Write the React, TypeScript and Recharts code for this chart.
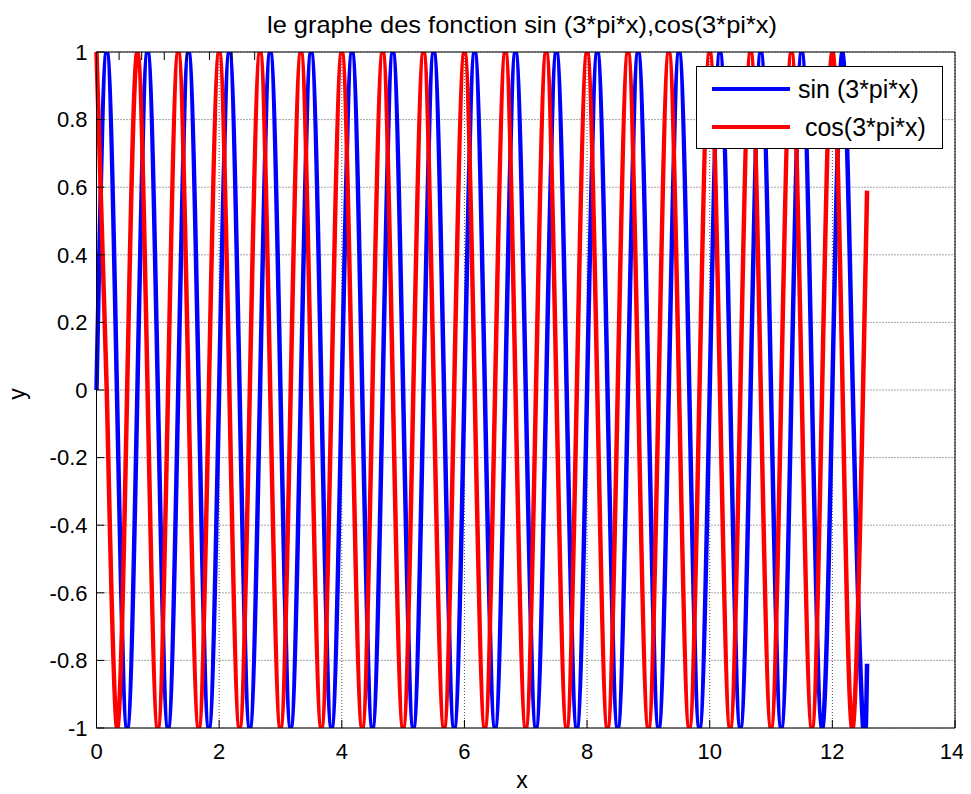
import { CartesianGrid, Customized, Line, LineChart, XAxis, YAxis } from 'recharts';

// key points of the two curves (zeros and extrema, quarter period apart)
const xValues = [
  0, 0.167, 0.333, 0.5, 0.667, 0.833,
  1, 1.167, 1.333, 1.5, 1.667, 1.833,
  2, 2.167, 2.333, 2.5, 2.667, 2.833,
  3, 3.167, 3.333, 3.5, 3.667, 3.833,
  4, 4.167, 4.333, 4.5, 4.667, 4.833,
  5, 5.167, 5.333, 5.5, 5.667, 5.833,
  6, 6.167, 6.333, 6.5, 6.667, 6.833,
  7, 7.167, 7.333, 7.5, 7.667, 7.833,
  8, 8.167, 8.333, 8.5, 8.667, 8.833,
  9, 9.167, 9.333, 9.5, 9.667, 9.833,
  10, 10.167, 10.333, 10.5, 10.667, 10.833,
  11, 11.167, 11.333, 11.5, 11.667, 11.833,
  12, 12.167, 12.333, 12.5, 12.566,
];

const sinValues = [
  0, 1, 0, -1, 0, 1,
  0, -1, 0, 1, 0, -1,
  0, 1, 0, -1, 0, 1,
  0, -1, 0, 1, 0, -1,
  0, 1, 0, -1, 0, 1,
  0, -1, 0, 1, 0, -1,
  0, 1, 0, -1, 0, 1,
  0, -1, 0, 1, 0, -1,
  0, 1, 0, -1, 0, 1,
  0, -1, 0, 1, 0, -1,
  0, 1, 0, -1, 0, 1,
  0, -1, 0, 1, 0, -1,
  0, 1, 0, -1, -0.81,
];

const cosValues = [
  1, 0, -1, 0, 1, 0,
  -1, 0, 1, 0, -1, 0,
  1, 0, -1, 0, 1, 0,
  -1, 0, 1, 0, -1, 0,
  1, 0, -1, 0, 1, 0,
  -1, 0, 1, 0, -1, 0,
  1, 0, -1, 0, 1, 0,
  -1, 0, 1, 0, -1, 0,
  1, 0, -1, 0, 1, 0,
  -1, 0, 1, 0, -1, 0,
  1, 0, -1, 0, 1, 0,
  -1, 0, 1, 0, -1, 0,
  1, 0, -1, 0, 0.59,
];

const xTicks = [0, 2, 4, 6, 8, 10, 12, 14];
const yTicks = [-1, -0.8, -0.6, -0.4, -0.2, 0, 0.2, 0.4, 0.6, 0.8, 1];

const seriesNames = ['sin (3*pi*x)', ' cos(3*pi*x)'];
const seriesColors = ['#0000ff', '#ff0000'];

const FONT = '"Liberation Sans", Arial, Helvetica, sans-serif';

const data = xValues.map((x, i) => ({ x, sin: sinValues[i], cos: cosValues[i] }));

const noLabel = () => <g />;

function Texts() {
  return (
    <g fontFamily={FONT} fill="#000">
      <text x={522} y={33} fontSize={24} textAnchor="middle" textLength={510} lengthAdjust="spacingAndGlyphs">
        le graphe des fonction sin (3*pi*x),cos(3*pi*x)
      </text>
      <text x={522} y={788} fontSize={23} textAnchor="middle">x</text>
      <text x={25} y={394} fontSize={23} textAnchor="middle" transform="rotate(-90 25 394)">y</text>
    </g>
  );
}

export default function App() {
  // svg is pulled over the body margin so chart coordinates equal page pixels
  return (
    <div style={{ position: 'relative', width: 963, height: 794, margin: '-8px 0 0 -8px' }}>
      <LineChart width={963} height={794} data={data} margin={{ top: 51, right: 7, bottom: 36, left: 36.5 }}>
        <CartesianGrid stroke="#000" strokeOpacity={0.7} strokeDasharray="1 2" />
        <XAxis
          dataKey="x"
          type="number"
          domain={[0, 14]}
          ticks={xTicks}
          height={30}
          stroke="#000"
          tickSize={-8}
          tickMargin={23}
          tick={{ fill: '#000', fontSize: 22, fontFamily: FONT }}
        />
        <XAxis xAxisId="top" orientation="top" type="number" domain={[0, 14]} ticks={xTicks} height={1} stroke="#000" tickSize={-8} tick={noLabel} />
        <YAxis
          type="number"
          domain={[-1, 1]}
          allowDataOverflow
          ticks={yTicks}
          width={60}
          stroke="#000"
          tickSize={-8}
          tickMargin={17}
          tickFormatter={(v: number) => String(v)}
          tick={{ fill: '#000', fontSize: 22, fontFamily: FONT }}
        />
        <YAxis yAxisId="right" orientation="right" type="number" domain={[-1, 1]} ticks={yTicks} width={1} stroke="#000" tickSize={-8} tick={noLabel} />
        <Line dataKey="sin" type="natural" stroke={seriesColors[0]} strokeWidth={4.5} dot={false} isAnimationActive={false} />
        <Line dataKey="cos" type="natural" stroke={seriesColors[1]} strokeWidth={4.5} dot={false} isAnimationActive={false} />
        <Customized component={Texts} />
      </LineChart>
      <div
        style={{
          position: 'absolute',
          left: 696,
          top: 66,
          width: 247,
          height: 83,
          boxSizing: 'border-box',
          border: '1px solid #000',
          background: '#fff',
          fontFamily: FONT,
          fontSize: 25,
        }}
      >
        {seriesNames.map((name, i) => (
          <div key={name} style={{ position: 'absolute', left: 0, top: (i === 0 ? 22 : 60) - 16, height: 32, display: 'flex', alignItems: 'center' }}>
            <span style={{ position: 'absolute', left: 15, width: 78, height: 4, background: seriesColors[i] }} />
            <span style={{ position: 'absolute', left: 101, whiteSpace: 'pre' }}>{name}</span>
          </div>
        ))}
      </div>
    </div>
  );
}
